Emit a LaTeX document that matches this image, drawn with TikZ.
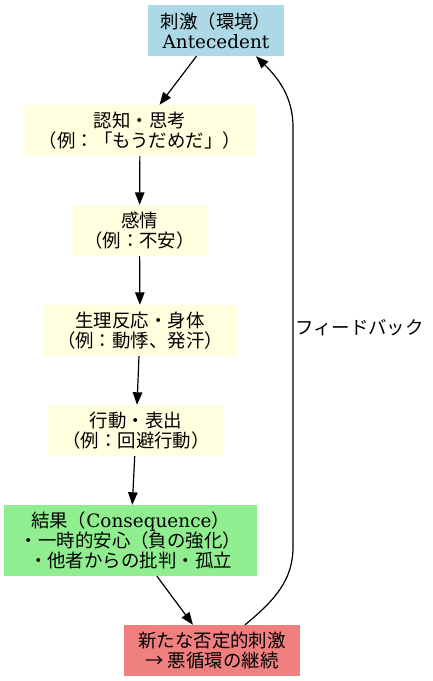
\documentclass[tikz,border=0pt]{standalone}
\usepackage{fontspec}
\setmainfont{Noto Sans CJK JP}
\newfontfamily\lat{DejaVu Serif}
\usetikzlibrary{arrows.meta}
\definecolor{lblue}{HTML}{ADD8E6}
\definecolor{lyellow}{HTML}{FFFFE0}
\definecolor{lgreen}{HTML}{90EE90}
\definecolor{lcoral}{HTML}{F08080}
\tikzset{
  box/.style={rectangle, inner sep=0pt, align=center, minimum height=51bp,
    font=\fontsize{18.5}{20}\selectfont},
  link/.style={line width=1.2bp, -{Triangle[length=12.5bp,width=9.5bp]}},
}
\begin{document}
\begin{tikzpicture}[x=1bp,y=-1bp]
\useasboundingbox (0,0) rectangle (432,681);
\node[box, fill=lblue, minimum width=136bp] (b1) at (216,30.5) {刺激（環境）\\{\lat Antecedent}};
\node[box, fill=lyellow, minimum width=232bp] (b2) at (140,130.5) {認知・思考\\（例：「もうだめだ」）};
\node[box, fill=lyellow, minimum width=137bp] (b3) at (139.5,230.5) {感情\\（例：不安）};
\node[box, fill=lyellow, minimum width=194bp] (b4) at (140,330.5) {生理反応・身体\\（例：動悸、発汗）};
\node[box, fill=lyellow, minimum width=176bp] (b5) at (136,430.5) {行動・表出\\（例：回避行動）};
\node[box, fill=lgreen, minimum width=253bp, minimum height=71bp] (b6) at (130.5,540.5) {結果（{\lat Consequence}）\\・一時的安心（負の強化）\\・他者からの批判・孤立};
\node[box, fill=lcoral, minimum width=176bp] (b7) at (212,650.5) {新たな否定的刺激\\→ 悪循環の継続};
\draw[link] (b1) -- (b2);
\draw[link] (b2) -- (b3);
\draw[link] (b3) -- (b4);
\draw[link] (b4) -- (b5);
\draw[link] (b5) -- (b6);
\draw[link] (b6) -- (b7);
\draw[link] ([xshift=33bp]b7.north) .. controls (275,600) and (293,580) .. (293,547)
  -- (293,127) .. controls (293,95) and (276,76) .. ([xshift=40bp]b1.south);
\node[anchor=west, inner sep=0pt, font=\fontsize{18.5}{20}\selectfont] (fbl) at (295,328) {フィードバック};
\end{tikzpicture}
\end{document}
